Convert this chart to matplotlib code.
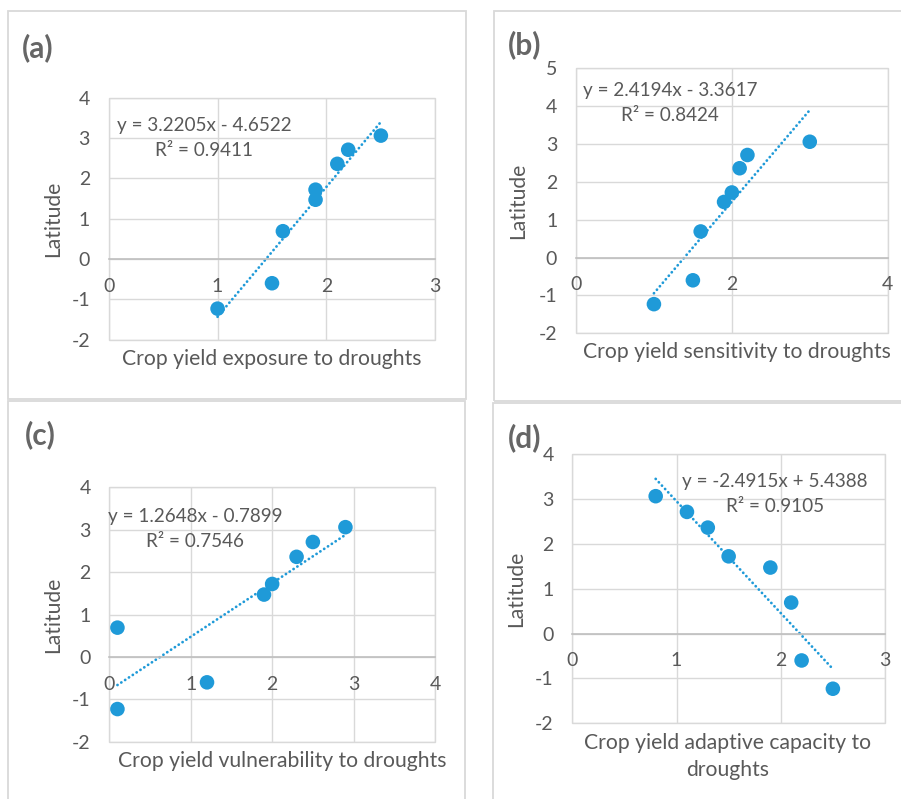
import matplotlib
matplotlib.use("Agg")
import matplotlib.pyplot as plt
from matplotlib.patches import Rectangle
import numpy as np

plt.rcParams['font.family'] = ['Lato', 'DejaVu Sans']
plt.rcParams['axes.unicode_minus'] = False

# ---------------- data ----------------
latitude = [-1.23, -0.60, 0.69, 1.47, 1.72, 2.36, 2.71, 3.06]
exposure = [1.0, 1.5, 1.6, 1.9, 1.9, 2.1, 2.2, 2.5]
sensitivity = [1.0, 1.5, 1.6, 1.9, 2.0, 2.1, 2.2, 3.0]
vulnerability = [0.1, 1.2, 0.1, 1.9, 2.0, 2.3, 2.5, 2.9]
adaptive = [2.5, 2.2, 2.1, 1.9, 1.5, 1.3, 1.1, 0.8]

slopes = [3.2205, 2.4194, 1.2648, -2.4915]
intercepts = [-4.6522, -3.3617, -0.7899, 5.4388]
eq_texts = ["y = 3.2205x - 4.6522", "y = 2.4194x - 3.3617",
            "y = 1.2648x - 0.7899", "y = -2.4915x + 5.4388"]
r2_texts = ["R² = 0.9411", "R² = 0.8424", "R² = 0.7546", "R² = 0.9105"]
panel_labels = ["(a)", "(b)", "(c)", "(d)"]
x_titles = [["Crop yield exposure to droughts"],
            ["Crop yield sensitivity to droughts"],
            ["Crop yield vulnerability to droughts"],
            ["Crop yield adaptive capacity to", "droughts"]]
x_ticks = [[0, 1, 2, 3], [0, 2, 4], [0, 1, 2, 3, 4], [0, 1, 2, 3]]
y_ticks = [[-2, -1, 0, 1, 2, 3, 4], [-2, -1, 0, 1, 2, 3, 4, 5],
           [-2, -1, 0, 1, 2, 3, 4], [-2, -1, 0, 1, 2, 3, 4]]
x_series = [exposure, sensitivity, vulnerability, adaptive]

# ---------------- layout (pixels) ----------------
W, H = 901, 799
fig = plt.figure(figsize=(W / 100, H / 100), dpi=100)

def fx(px):
    return px / W

def fy(py):
    return 1 - py / H

# plot areas: left, right, top, bottom
plot_boxes = [(108.7, 435.3, 97.7, 339.7),
              (576.0, 887.7, 68.3, 333.3),
              (109.3, 435.0, 487.3, 741.7),
              (572.3, 885.0, 454.0, 723.3)]
# outer panel borders: left, right, top, bottom
panel_boxes = [(8, 466, 11, 399),
               (494, 905, 11, 400.5),
               (8, 465, 401.5, 805),
               (493, 905, 403, 805)]
label_pos = [(21.7, 48), (508.3, 45), (25, 435), (508.3, 438)]
eq_pos = [(204, 126, 151), (670, 90.7, 115.7), (195, 516.7, 541.7), (775, 481, 506.7)]
ylab_x = [52.7, 518.3, 52.7, 515.7]
xlab_pos = [(272, [359]), (737, [352.3]), (281.8, [761]), (728, [743.3, 770])]

TXT = '#595959'
GRID = '#d9d9d9'
BLUE = '#1f9ad8'

for (l, r, t, b) in panel_boxes:
    fig.patches.append(Rectangle((fx(l), fy(b)), fx(r) - fx(l), fy(t) - fy(b),
                                 transform=fig.transFigure, fill=False,
                                 edgecolor=GRID, linewidth=1.3))

for i in range(4):
    l, r, t, b = plot_boxes[i]
    ax = fig.add_axes([fx(l), fy(b), fx(r) - fx(l), fy(t) - fy(b)])
    xs = x_series[i]
    ax.set_xlim(x_ticks[i][0], x_ticks[i][-1])
    ax.set_ylim(y_ticks[i][0], y_ticks[i][-1])
    ax.set_xticks(x_ticks[i])
    ax.set_yticks(y_ticks[i])
    ax.grid(True, color=GRID, linewidth=1.0, zorder=0)
    ax.set_axisbelow(True)
    for s in ['left', 'top', 'right']:
        ax.spines[s].set_visible(False)
    ax.spines['bottom'].set_position(('data', 0))
    ax.spines['bottom'].set_color('#bfbfbf')
    ax.spines['bottom'].set_linewidth(1.2)
    ax.add_patch(Rectangle((0, 0), 1, 1, transform=ax.transAxes, fill=False,
                           edgecolor=GRID, linewidth=1.0, clip_on=False, zorder=0.5))
    ax.tick_params(axis='x', length=0, pad=13.5, labelsize=14, labelcolor=TXT)
    ax.tick_params(axis='y', length=0, pad=13.5, labelsize=14, labelcolor=TXT)
    ax.set_facecolor('none')

    # trendline
    xl = np.array([min(xs), max(xs)])
    ax.plot(xl, slopes[i] * xl + intercepts[i], color=BLUE, linewidth=2.0,
            linestyle=(0, (0.05, 1.6)), dash_capstyle='round', zorder=2)
    ax.scatter(xs, latitude, s=110, color=BLUE, edgecolors='none', zorder=3)

    # texts
    fig.text(fx(label_pos[i][0]), fy(label_pos[i][1]), panel_labels[i],
             fontsize=21.5, fontweight='bold', color='#666666', ha='left', va='center')
    cx, y1, y2 = eq_pos[i]
    fig.text(fx(cx), fy(y1), eq_texts[i], fontsize=13.6, color=TXT, ha='center', va='center')
    fig.text(fx(cx), fy(y2), r2_texts[i], fontsize=13.6, color=TXT, ha='center', va='center')
    fig.text(fx(ylab_x[i]), fy((t + b) / 2), "Latitude", fontsize=15.2, color=TXT,
             rotation=90, ha='center', va='center')
    xc, ys = xlab_pos[i]
    for line, yy in zip(x_titles[i], ys):
        fig.text(fx(xc), fy(yy), line, fontsize=15.2, color=TXT, ha='center', va='center')

fig.savefig("out.png", dpi=100, facecolor='white')
